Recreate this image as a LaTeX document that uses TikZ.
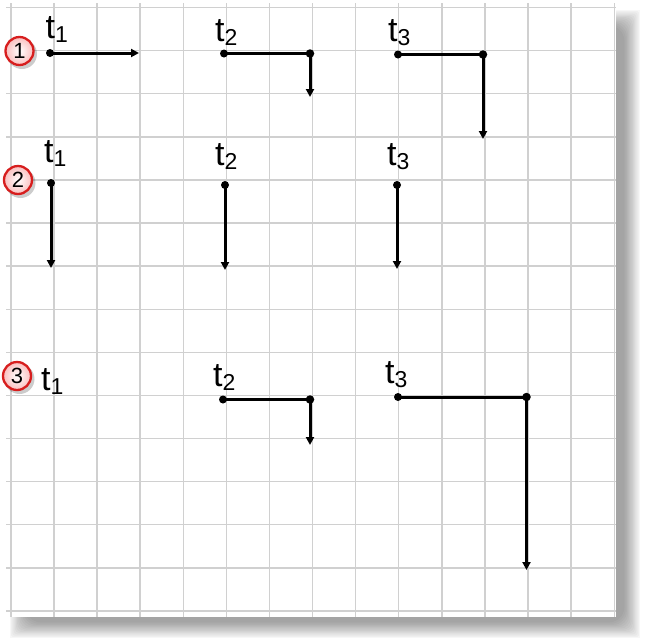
\documentclass[tikz,border=0pt]{standalone}
\usepackage{fontspec}
\setmainfont{Liberation Sans}
\usetikzlibrary{arrows.meta}
\definecolor{gridgray}{RGB}{208,208,208}
\definecolor{badgered}{RGB}{215,30,30}
\definecolor{badgepink}{RGB}{250,190,190}
\tikzset{
  gridline/.style={draw=gridgray, line width=1.4pt},
  dotnode/.style={circle, fill=black, inner sep=0pt, minimum size=8pt},
  cornernode/.style={circle, fill=black, inner sep=0pt, minimum size=8.5pt},
  vec/.style={line width=3pt, draw=black},
  vecarr/.style={line width=3pt, draw=black, -{Triangle[width=8pt,length=8pt]}},
  tlabel/.style={anchor=base west, inner sep=0pt, font=\fontsize{34}{34}\selectfont},
  badge/.style={circle, draw=badgered, line width=2.3pt, minimum size=28pt, inner sep=0pt,
     inner color=white, outer color=badgepink, font=\fontsize{22}{22}\selectfont},
  badgeshadow/.style={circle, fill=black, opacity=0.2, minimum size=30pt, inner sep=0pt}
}
\newcommand{\tsub}[1]{t\raisebox{-4pt}{\fontsize{23}{23}\selectfont #1}}
\begin{document}
\begin{tikzpicture}[x=1pt,y=-1pt]
\useasboundingbox (0,0) rectangle (645,638);
% panel shadow
\foreach \r in {0,1,...,13} {
  \fill[black, opacity=0.032, rounded corners={\r*1.2 pt}]
    ({10+\r*1.2}, {10+\r*1.2}) rectangle ({640-\r*1.2}, {638-\r*1.2});
}
% panel
\fill[white] (6,3) rectangle (616,617);
% grid
\foreach \k in {0,...,14} {
  \draw[gridline] ({10.8+43.1*\k},3) -- ({10.8+43.1*\k},617);
  \draw[gridline] (6,{7.5+43.1*\k}) -- (616,{7.5+43.1*\k});
}
% badges
\node[badgeshadow] (s1) at (22,54) {};
\node[badge] (b1) at (19.5,51) {1};
\node[badgeshadow] (s2) at (20.5,183) {};
\node[badge] (b2) at (18,180) {2};
\node[badgeshadow] (s3) at (19.5,379) {};
\node[badge] (b3) at (17,376) {3};
% labels
\node[tlabel] (l11) at (45.5,38.5) {\tsub{1}};
\node[tlabel] (l12) at (215,41.5) {\tsub{2}};
\node[tlabel] (l13) at (388,41.5) {\tsub{3}};
\node[tlabel] (l21) at (44,162) {\tsub{1}};
\node[tlabel] (l22) at (215,165) {\tsub{2}};
\node[tlabel] (l23) at (387,165) {\tsub{3}};
\node[tlabel] (l31) at (41,390) {\tsub{1}};
\node[tlabel] (l32) at (213,386) {\tsub{2}};
\node[tlabel] (l33) at (385,383.5) {\tsub{3}};
% row 1
\node[dotnode] (p11) at (50,53) {};
\coordinate (e11) at (139,53);
\draw[vecarr] (p11.center) -- (e11);
\node[dotnode] (p12) at (224,53.5) {};
\node[cornernode] (c12) at (310,53.5) {};
\coordinate (e12) at (310,97);
\draw[vec] (p12.center) -- (c12.center);
\draw[vecarr] (c12.center) -- (e12);
\node[dotnode] (p13) at (398,54.5) {};
\node[cornernode] (c13) at (483,54.5) {};
\coordinate (e13) at (483,139);
\draw[vec] (p13.center) -- (c13.center);
\draw[vecarr] (c13.center) -- (e13);
% row 2
\node[dotnode] (p21) at (51,183) {};
\coordinate (e21) at (51,268);
\draw[vecarr] (p21.center) -- (e21);
\node[dotnode] (p22) at (225,185) {};
\coordinate (e22) at (225,270);
\draw[vecarr] (p22.center) -- (e22);
\node[dotnode] (p23) at (397,185) {};
\coordinate (e23) at (397,269);
\draw[vecarr] (p23.center) -- (e23);
% row 3
\node[dotnode] (p32) at (223,399.5) {};
\node[cornernode] (c32) at (310,399.5) {};
\coordinate (e32) at (310,445);
\draw[vec] (p32.center) -- (c32.center);
\draw[vecarr] (c32.center) -- (e32);
\node[dotnode] (p33) at (398,397) {};
\node[cornernode] (c33) at (526.5,397) {};
\coordinate (e33) at (526.5,570);
\draw[vec] (p33.center) -- (c33.center);
\draw[vecarr] (c33.center) -- (e33);
\end{tikzpicture}
\end{document}
